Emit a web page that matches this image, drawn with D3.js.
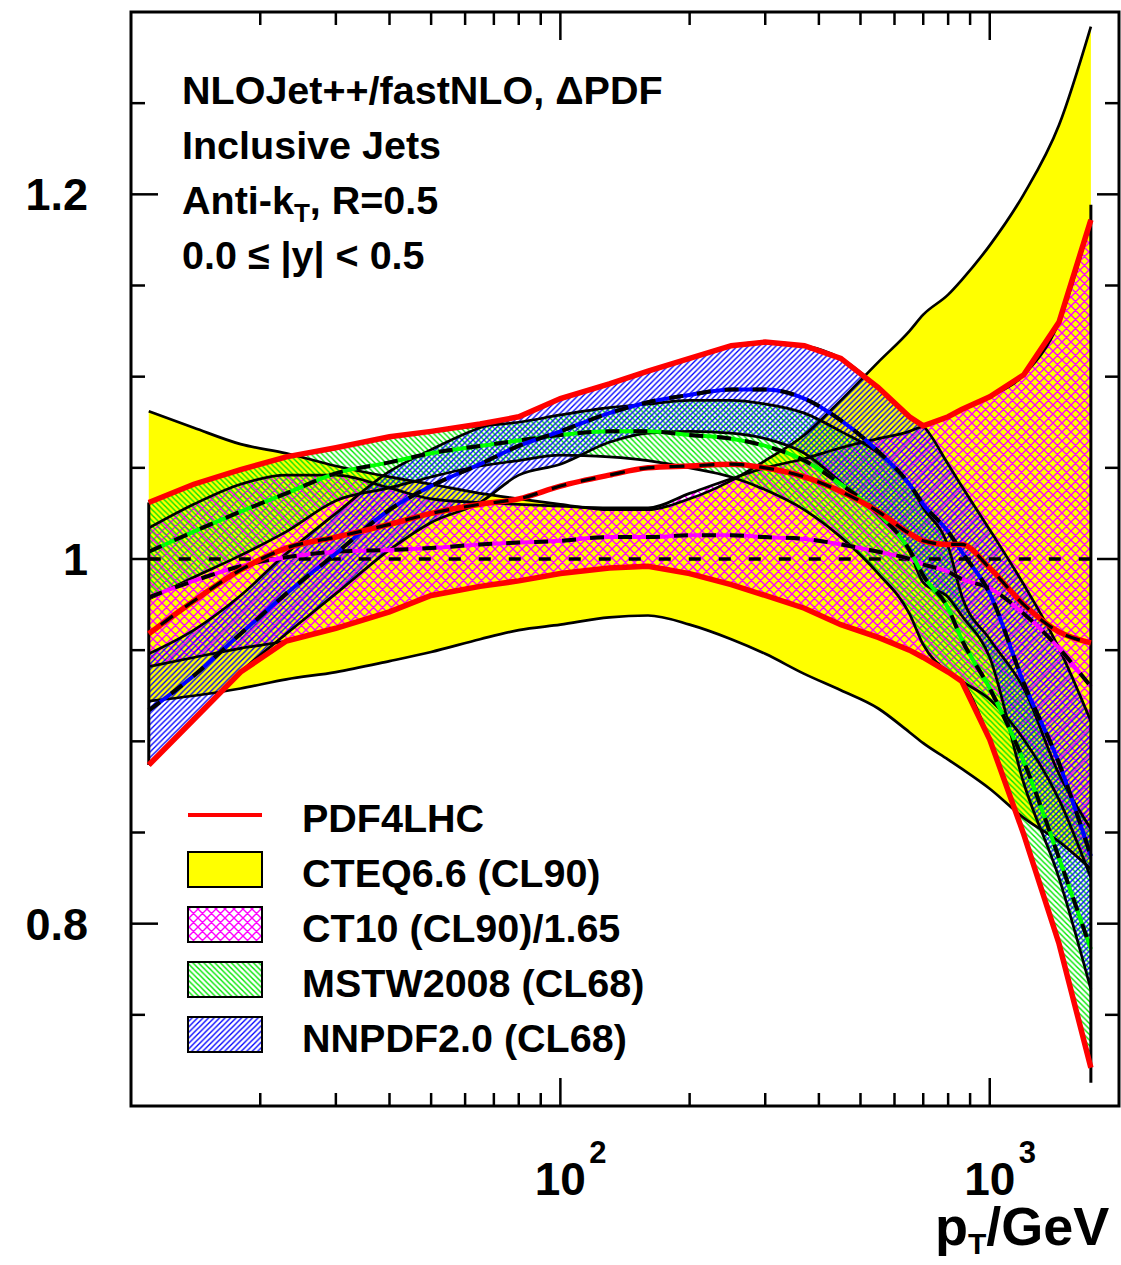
<!DOCTYPE html>
<html><head><meta charset="utf-8">
<script src="https://cdn.jsdelivr.net/npm/d3@7"></script>
<style>
body{margin:0;background:#fff;}
svg{display:block;}
text{font-family:"Liberation Sans",Arial,Helvetica,sans-serif;font-weight:bold;fill:#000;}
</style>
</head><body>
<svg id="c" width="1121" height="1265"></svg>
<script>
// ---------------- data ----------------
const pT = [11,14,18,23,30,40,50,65,80,100,130,160,200,250,300,370,450,550,650,700,800,860,1000,1200,1450,1720];

const cteqUp  = [1.081,1.072,1.063,1.058,1.051,1.045,1.041,1.036,1.033,1.030,1.027,1.027,1.033,1.043,1.054,1.068,1.087,1.108,1.125,1.134,1.145,1.153,1.172,1.200,1.238,1.292];
const cteqCen = [1,1,1,1,1,1,1,1,1,1,1,1,1,1,1,1,1,1,1,1,1,1,1,1,1,1];
const cteqLo  = [0.922,0.925,0.929,0.934,0.938,0.944,0.949,0.956,0.961,0.964,0.968,0.969,0.964,0.956,0.948,0.937,0.928,0.918,0.905,0.899,0.890,0.885,0.874,0.858,0.845,0.830];

const ct10Up  = [1.017,1.030,1.041,1.046,1.046,1.039,1.033,1.031,1.030,1.029,1.028,1.028,1.036,1.044,1.050,1.055,1.061,1.066,1.070,1.073,1.078,1.082,1.089,1.101,1.130,1.186];
const ct10Cen = [0.979,0.988,0.996,1.001,1.004,1.005,1.006,1.008,1.009,1.010,1.012,1.012,1.013,1.013,1.012,1.011,1.008,1.004,1.000,0.997,0.993,0.989,0.984,0.970,0.951,0.930];
const ct10Lo  = [0.941,0.946,0.951,0.955,0.962,0.971,0.980,0.985,0.988,0.992,0.995,0.996,0.992,0.986,0.980,0.973,0.964,0.957,0.950,0.946,0.938,0.933,0.923,0.901,0.868,0.825];

const mstwUp  = [1.031,1.041,1.049,1.056,1.061,1.067,1.070,1.073,1.075,1.079,1.083,1.085,1.087,1.087,1.085,1.080,1.070,1.058,1.041,1.028,1.007,0.980,0.956,0.929,0.882,0.852];
const mstwCen = [1.004,1.015,1.026,1.036,1.047,1.053,1.058,1.062,1.065,1.068,1.070,1.070,1.068,1.066,1.062,1.054,1.041,1.025,1.005,0.991,0.973,0.956,0.929,0.889,0.836,0.786];
const mstwLo  = [0.978,0.990,1.002,1.015,1.032,1.039,1.045,1.051,1.054,1.057,1.056,1.054,1.050,1.045,1.038,1.027,1.012,0.992,0.970,0.953,0.938,0.933,0.901,0.849,0.789,0.721];

const nnpdfUp  = [0.948,0.961,0.980,1.003,1.025,1.048,1.060,1.072,1.078,1.088,1.096,1.103,1.110,1.117,1.119,1.117,1.110,1.094,1.078,1.073,1.052,1.040,1.016,0.986,0.951,0.911];
const nnpdfCen = [0.917,0.936,0.959,0.981,1.003,1.027,1.040,1.052,1.062,1.070,1.080,1.086,1.090,1.093,1.093,1.088,1.076,1.059,1.041,1.030,1.015,1.004,0.981,0.932,0.888,0.837];
const nnpdfLo  = [0.887,0.912,0.938,0.959,0.981,1.005,1.020,1.031,1.046,1.052,1.064,1.069,1.070,1.069,1.066,1.058,1.042,1.024,1.004,0.987,0.979,0.969,0.946,0.877,0.825,0.764];

const pdf4lhcUp  = [1.031,1.041,1.049,1.056,1.061,1.067,1.070,1.074,1.078,1.088,1.096,1.103,1.110,1.117,1.119,1.117,1.110,1.094,1.078,1.073,1.078,1.082,1.089,1.101,1.130,1.186];
const pdf4lhcCen = [0.959,0.977,0.994,1.006,1.012,1.019,1.025,1.030,1.033,1.040,1.046,1.050,1.051,1.052,1.050,1.045,1.037,1.026,1.014,1.010,1.008,1.008,0.995,0.975,0.960,0.954];
const pdf4lhcLo  = [0.887,0.912,0.938,0.955,0.962,0.971,0.980,0.985,0.988,0.992,0.995,0.996,0.992,0.986,0.980,0.973,0.964,0.957,0.950,0.946,0.938,0.933,0.901,0.849,0.789,0.721];

const yMajorTicks  = [0.8, 1.0, 1.2];
const yTickLabels  = ["0.8", "1", "1.2"];
const xMajorTicks  = [100, 1000];
const xTickExps    = ["2", "3"];
const infoLines    = ["NLOJet++/fastNLO, \u0394PDF", "Inclusive Jets", "Anti-k_T, R=0.5", "0.0 \u2264 |y| < 0.5"];
const legendLabels = ["PDF4LHC", "CTEQ6.6 (CL90)", "CT10 (CL90)/1.65", "MSTW2008 (CL68)", "NNPDF2.0 (CL68)"];

// ---------------- chart ----------------
const svg = d3.select("#c");
const X0 = 131, X1 = 1119, Y0 = 12, Y1 = 1106;
const x = d3.scaleLog().domain([10, 2000]).range([X0, X1]);
const y = d3.scaleLinear().domain([0.7, 1.3]).range([Y1, Y0]);

const defs = svg.append("defs");
defs.append("clipPath").attr("id", "clip").append("rect")
  .attr("x", X0).attr("y", Y0).attr("width", X1 - X0).attr("height", Y1 - Y0);

function hatch(id, s, dirs, color, w) {
  const p = defs.append("pattern").attr("id", id).attr("patternUnits", "userSpaceOnUse")
    .attr("width", s).attr("height", s);
  let d = "";
  if (dirs.includes("/")) d += `M0,${s} L${s},0 M${-s/2},${s/2} L${s/2},${-s/2} M${s/2},${1.5*s} L${1.5*s},${s/2} `;
  if (dirs.includes("\\")) d += `M0,0 L${s},${s} M${-s/2},${s/2} L${s/2},${1.5*s} M${s/2},${-s/2} L${1.5*s},${s/2} `;
  p.append("path").attr("d", d).attr("stroke", color).attr("stroke-width", w).attr("fill", "none");
}
hatch("hMag", 9, "/\\", "#ff00ff", 1.4);
hatch("hGrn", 5.5, "\\", "#00e600", 1.4);
hatch("hBlu", 5.5, "/", "#0000ff", 1.3);

const rows = (lo, hi) => pT.map((p, i) => ({p, lo: lo[i], hi: hi[i]}));
const pts = (v) => pT.map((p, i) => ({p, v: v[i]}));
const area = d3.area().x(d => x(d.p)).y0(d => y(d.lo)).y1(d => y(d.hi)).curve(d3.curveMonotoneX);
const line = d3.line().x(d => x(d.p)).y(d => y(d.v)).curve(d3.curveMonotoneX);
const lineLin = d3.line().x(d => x(d.p)).y(d => y(d.v));

const plot = svg.append("g").attr("clip-path", "url(#clip)");

// fills
plot.append("path").attr("d", area(rows(cteqLo, cteqUp))).attr("fill", "#ffff00");
plot.append("path").attr("d", area(rows(ct10Lo, ct10Up))).attr("fill", "url(#hMag)");
plot.append("path").attr("d", area(rows(mstwLo, mstwUp))).attr("fill", "url(#hGrn)");
plot.append("path").attr("d", area(rows(nnpdfLo, nnpdfUp))).attr("fill", "url(#hBlu)");

// band edges
[cteqUp, cteqLo, ct10Up, ct10Lo, mstwUp, mstwLo, nnpdfUp, nnpdfLo].forEach(a => {
  plot.append("path").attr("d", line(pts(a))).attr("fill", "none").attr("stroke", "#000").attr("stroke-width", 2.7);
});

// central lines
plot.append("path").attr("d", line(pts(cteqCen))).attr("fill", "none")
  .attr("stroke", "#000").attr("stroke-width", 3.5).attr("stroke-dasharray", "12 18");
[[ct10Cen, "#ff00ff"], [mstwCen, "#00ff00"], [nnpdfCen, "#0000ff"]].forEach(([a, col]) => {
  plot.append("path").attr("d", line(pts(a))).attr("fill", "none").attr("stroke", col).attr("stroke-width", 4);
  plot.append("path").attr("d", line(pts(a))).attr("fill", "none").attr("stroke", "#000")
    .attr("stroke-width", 4).attr("stroke-dasharray", "14 14");
});

// end caps
const i0 = 0, iN = pT.length - 1;
plot.append("line").attr("x1", x(pT[i0])).attr("x2", x(pT[i0]))
  .attr("y1", y(pdf4lhcUp[i0])).attr("y2", y(pdf4lhcLo[i0])).attr("stroke", "#000").attr("stroke-width", 3);
plot.append("line").attr("x1", x(pT[iN])).attr("x2", x(pT[iN]))
  .attr("y1", y(pdf4lhcUp[iN]) - 15).attr("y2", y(pdf4lhcLo[iN]) + 15).attr("stroke", "#000").attr("stroke-width", 3);

// PDF4LHC
plot.append("path").attr("d", lineLin(pts(pdf4lhcUp))).attr("fill", "none").attr("stroke", "#ff0000").attr("stroke-width", 5.5);
plot.append("path").attr("d", lineLin(pts(pdf4lhcLo))).attr("fill", "none").attr("stroke", "#ff0000").attr("stroke-width", 5.5);
plot.append("path").attr("d", line(pts(pdf4lhcCen))).attr("fill", "none").attr("stroke", "#ff0000").attr("stroke-width", 5.5);
plot.append("path").attr("d", line(pts(pdf4lhcCen))).attr("fill", "none").attr("stroke", "#000")
  .attr("stroke-width", 3.2).attr("stroke-dasharray", "15 15").attr("stroke-dashoffset", 15);

// ---------------- axes ----------------
const ax = svg.append("g").attr("stroke", "#000").attr("stroke-width", 2.5);
const yMinor = d3.range(0.75, 1.2501, 0.05).filter(v => !yMajorTicks.some(m => Math.abs(m - v) < 1e-6));
yMinor.forEach(v => {
  ax.append("line").attr("x1", X0).attr("x2", X0 + 14).attr("y1", y(v)).attr("y2", y(v));
  ax.append("line").attr("x1", X1).attr("x2", X1 - 14).attr("y1", y(v)).attr("y2", y(v));
});
yMajorTicks.forEach(v => {
  ax.append("line").attr("x1", X0).attr("x2", X0 + 27).attr("y1", y(v)).attr("y2", y(v));
  ax.append("line").attr("x1", X1).attr("x2", X1 - 22).attr("y1", y(v)).attr("y2", y(v));
});
const xMinor = [];
[10, 100, 1000].forEach(dec => { for (let k = 2; k <= 9; k++) { const v = dec * k; if (v < 2000) xMinor.push(v); } });
xMinor.forEach(v => {
  ax.append("line").attr("x1", x(v)).attr("x2", x(v)).attr("y1", Y1).attr("y2", Y1 - 13);
  ax.append("line").attr("x1", x(v)).attr("x2", x(v)).attr("y1", Y0).attr("y2", Y0 + 13);
});
xMajorTicks.forEach(v => {
  ax.append("line").attr("x1", x(v)).attr("x2", x(v)).attr("y1", Y1).attr("y2", Y1 - 28);
  ax.append("line").attr("x1", x(v)).attr("x2", x(v)).attr("y1", Y0).attr("y2", Y0 + 28);
});
svg.append("rect").attr("x", X0).attr("y", Y0).attr("width", X1 - X0).attr("height", Y1 - Y0)
  .attr("fill", "none").attr("stroke", "#000").attr("stroke-width", 3);

// tick labels
yMajorTicks.forEach((v, i) => {
  svg.append("text").attr("x", 88).attr("y", y(v) + 16).attr("text-anchor", "end")
    .attr("font-size", 45).text(yTickLabels[i]);
});
xMajorTicks.forEach((v, i) => {
  svg.append("text").attr("x", x(v)).attr("y", 1195).attr("text-anchor", "middle")
    .attr("font-size", 46).text("10");
  svg.append("text").attr("x", x(v) + 29).attr("y", 1163).attr("font-size", 31).text(xTickExps[i]);
});
// axis title
const xt = svg.append("text").attr("x", 935).attr("y", 1245).attr("font-size", 54);
xt.append("tspan").text("p");
xt.append("tspan").attr("font-size", 30).attr("dy", 9).text("T");
xt.append("tspan").attr("dy", -9).text("/GeV");

// info text
const infoY = [104, 159, 214, 269];
infoLines.forEach((s, i) => {
  const t = svg.append("text").attr("x", 182).attr("y", infoY[i]).attr("font-size", 39.5);
  if (s.includes("_T")) {
    const parts = s.split("_T");
    t.append("tspan").text(parts[0]);
    t.append("tspan").attr("font-size", 26).attr("dy", 8).text("T");
    t.append("tspan").attr("dy", -8).text(parts[1]);
  } else t.text(s);
});

// legend
const lg = svg.append("g");
const boxY = [852, 907, 962, 1017];
const fills = ["#ffff00", "url(#hMag)", "url(#hGrn)", "url(#hBlu)"];
lg.append("line").attr("x1", 188).attr("x2", 262).attr("y1", 815).attr("y2", 815)
  .attr("stroke", "#ff0000").attr("stroke-width", 4);
boxY.forEach((by, i) => {
  lg.append("rect").attr("x", 188).attr("y", by).attr("width", 74).attr("height", 35).attr("fill", "#fff");
  lg.append("rect").attr("x", 188).attr("y", by).attr("width", 74).attr("height", 35)
    .attr("fill", fills[i]).attr("stroke", "#000").attr("stroke-width", 2);
});
const labY = [832, 887, 942, 997, 1052];
legendLabels.forEach((s, i) => {
  lg.append("text").attr("x", 302).attr("y", labY[i]).attr("font-size", 39.5).text(s);
});
</script>
</body></html>
